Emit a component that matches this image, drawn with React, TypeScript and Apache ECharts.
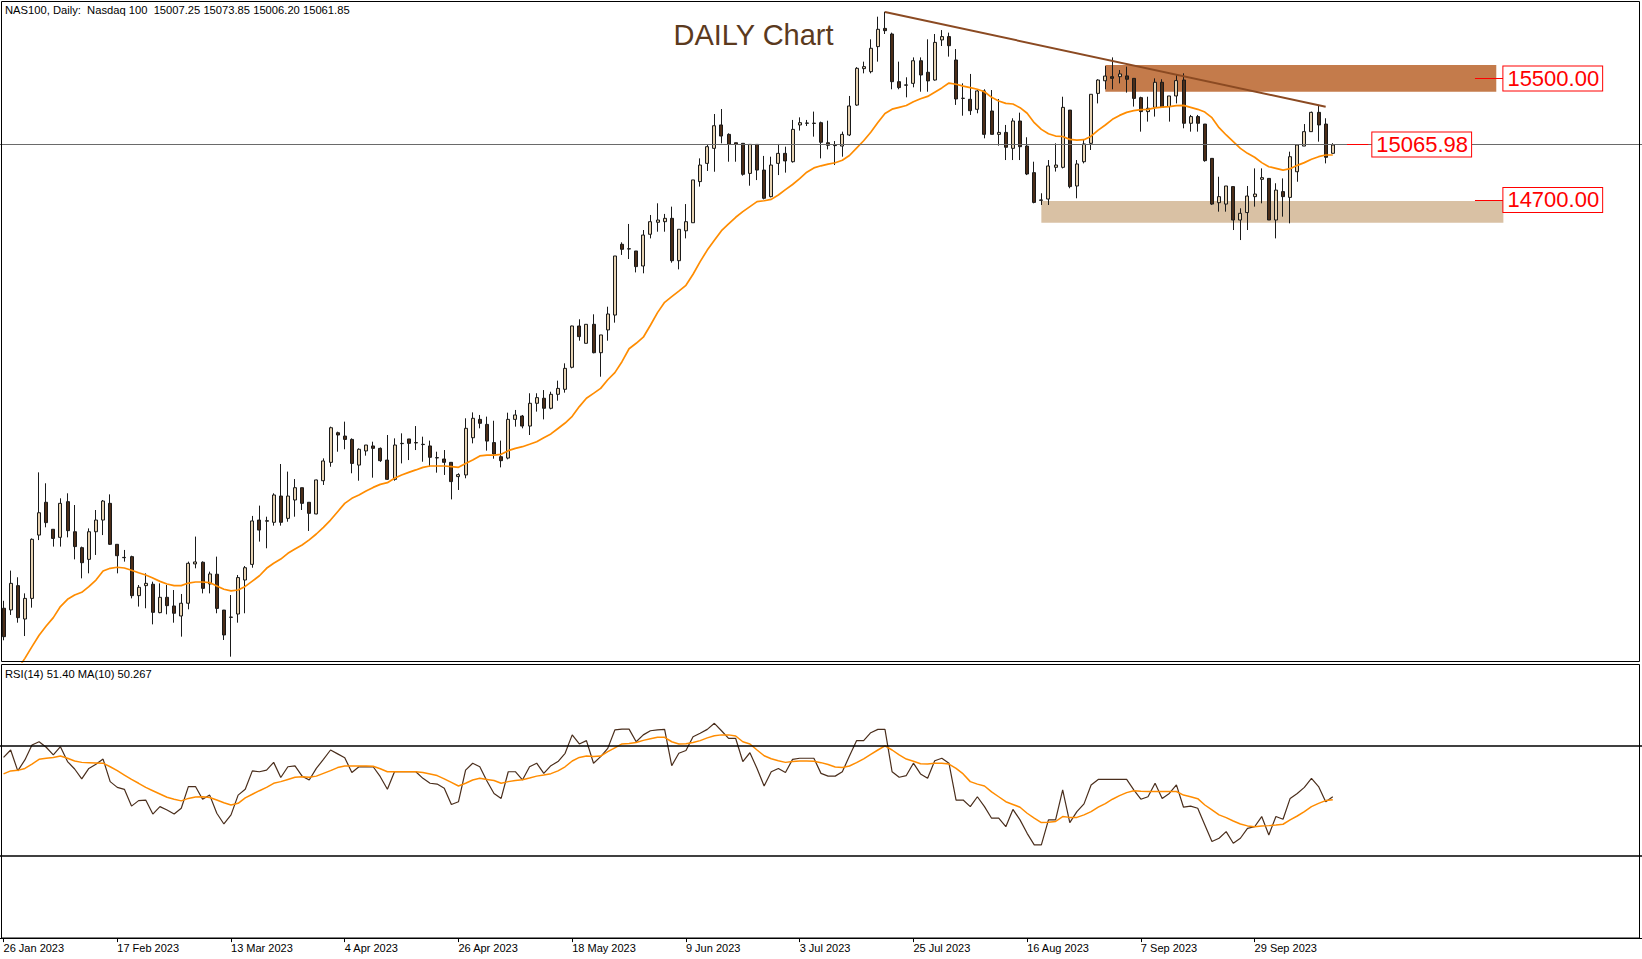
import React, { useEffect, useRef } from "react";
import * as echarts from "echarts";

// ---------- data ----------
const tickLabels = [
  "26 Jan 2023", "17 Feb 2023", "13 Mar 2023", "4 Apr 2023", "26 Apr 2023", "18 May 2023",
  "9 Jun 2023", "3 Jul 2023", "25 Jul 2023", "16 Aug 2023", "7 Sep 2023", "29 Sep 2023",
];
const TICK_STEP = 16; // bars between date labels
const SLOT_COUNT = 231; // bar slots across the window (chart shift on the right)

const opens = [
  12011, 12000, 12160, 11940, 12076, 12493, 12709, 12531, 12478, 12713,
  12515, 12410, 12333, 12515, 12592, 12702, 12432, 12346, 12351, 12094,
  12160, 12169, 11982, 12083, 12026, 11960, 12044, 12303, 12314, 12171,
  12235, 11999, 11951, 11973, 12197, 12300, 12592, 12584, 12577, 12750,
  12603, 12724, 12805, 12709, 12632, 12851, 12972, 13167, 13145, 13123,
  12954, 13047, 13080, 13064, 12987, 12860, 13095, 13126, 13102, 13091,
  13080, 13003, 12994, 12972, 12878, 12889, 13134, 13255, 13222, 13102,
  13009, 13000, 13255, 13277, 13211, 13361, 13394, 13328, 13420, 13453,
  13598, 13870, 13756, 13881, 13694, 13844, 13942, 14408, 14377, 14364,
  14265, 14474, 14553, 14557, 14579, 14300, 14497, 14550, 14821, 14941,
  15040, 15194, 15132, 15077, 15073, 14875, 15066, 14897, 14722, 14941,
  15007, 14952, 15194, 15205, 15206, 15209, 15077, 15060, 15055, 15128,
  15325, 15565, 15545, 15710, 15830, 15793, 15479, 15458, 15468, 15617,
  15541, 15490, 15754, 15776, 15622, 15370, 15363, 15297, 15418, 15286,
  15132, 15145, 15040, 15220, 15055, 14880, 14700, 14706, 14915, 14915,
  15292, 14792, 14952, 15073, 15402, 15485, 15512, 15512, 15517, 15501,
  15374, 15282, 15310, 15475, 15315, 15385, 15490, 15205, 15249, 15200,
  14974, 14682, 14673, 14788, 14568, 14617, 14722, 14836, 14842, 14568,
  14755, 14717, 14886, 15055, 15150, 15277, 15200, 15007.25,
];
const highs = [
  12060, 12259, 12215, 12109, 12471, 12906, 12834, 12531, 12735, 12768,
  12691, 12417, 12537, 12658, 12724, 12761, 12432, 12395, 12357, 12164,
  12241, 12186, 12175, 12164, 12131, 12105, 12318, 12483, 12320, 12252,
  12351, 12000, 12098, 12230, 12289, 12619, 12687, 12614, 12768, 12961,
  12911, 12862, 12805, 12709, 12858, 12998, 13207, 13174, 13240, 13130,
  13064, 13086, 13108, 13070, 13152, 13130, 13163, 13126, 13211, 13141,
  13115, 13042, 13053, 12972, 12900, 13262, 13301, 13284, 13273, 13246,
  13115, 13299, 13317, 13284, 13427, 13427, 13448, 13437, 13510, 13624,
  13872, 13914, 13881, 13947, 13811, 13997, 14331, 14421, 14542, 14364,
  14502, 14601, 14678, 14608, 14656, 14507, 14673, 14832, 14974, 15062,
  15266, 15299, 15139, 15077, 15073, 15066, 15066, 14990, 14985, 15069,
  15051, 15227, 15244, 15227, 15282, 15216, 15222, 15088, 15150, 15385,
  15575, 15611, 15758, 15907, 15940, 15802, 15611, 15508, 15639, 15639,
  15758, 15793, 15819, 15802, 15694, 15468, 15530, 15429, 15429, 15424,
  15365, 15194, 15238, 15275, 15113, 14952, 14744, 14963, 15073, 15380,
  15292, 14963, 15095, 15396, 15495, 15582, 15639, 15556, 15578, 15501,
  15380, 15380, 15501, 15495, 15385, 15523, 15534, 15260, 15260, 15200,
  14974, 14853, 14792, 14788, 14645, 14792, 14908, 14908, 14842, 14810,
  14842, 15018, 15062, 15200, 15282, 15326, 15238, 15073.85,
];
const lows = [
  11800, 11967, 11916, 11828, 12015, 12460, 12544, 12417, 12417, 12478,
  12333, 12208, 12241, 12362, 12493, 12428, 12241, 12318, 12076, 12022,
  12011, 11905, 11978, 11971, 11916, 11824, 12004, 12274, 12109, 12109,
  11978, 11802, 11692, 11916, 11978, 12278, 12450, 12406, 12555, 12555,
  12581, 12614, 12658, 12520, 12630, 12823, 12943, 13042, 13058, 12900,
  12851, 13016, 12871, 12975, 12856, 12851, 12965, 12987, 13053, 12976,
  12943, 12904, 12889, 12728, 12790, 12867, 13097, 13196, 13049, 12996,
  12939, 12992, 13207, 13196, 13152, 13306, 13255, 13321, 13378, 13431,
  13591, 13773, 13756, 13690, 13536, 13773, 13892, 14338, 14311, 14223,
  14217, 14447, 14491, 14491, 14287, 14243, 14447, 14550, 14788, 14891,
  14886, 15073, 14952, 14952, 14860, 14794, 14831, 14704, 14717, 14864,
  14880, 14946, 15157, 15187, 15117, 14974, 15033, 14930, 14985, 15121,
  15320, 15534, 15534, 15611, 15793, 15429, 15429, 15376, 15442, 15413,
  15413, 15486, 15714, 15644, 15326, 15255, 15260, 15271, 15106, 15132,
  15058, 14963, 14963, 14963, 14864, 14678, 14667, 14667, 14887, 14908,
  14777, 14711, 14941, 15029, 15336, 15429, 15429, 15468, 15407, 15315,
  15150, 15216, 15249, 15310, 15216, 15336, 15172, 15150, 15150, 14952,
  14667, 14623, 14623, 14502, 14436, 14502, 14656, 14678, 14568, 14447,
  14590, 14546, 14820, 15055, 15150, 15084, 14941, 15006.2,
];
const closes = [
  11824, 12175, 11949, 12076, 12465, 12640, 12575, 12471, 12702, 12522,
  12417, 12311, 12515, 12592, 12717, 12432, 12357, 12344, 12094, 12149,
  12175, 11984, 12083, 12028, 11978, 12044, 12307, 12316, 12142, 12237,
  12010, 11835, 11953, 12213, 12278, 12586, 12526, 12588, 12757, 12577,
  12750, 12805, 12702, 12636, 12856, 12981, 13200, 13152, 13123, 12965,
  13058, 13086, 13064, 12983, 12860, 13086, 13097, 13097, 13100, 13089,
  13005, 13001, 12972, 12845, 12891, 13196, 13262, 13229, 13112, 13027,
  12983, 13255, 13284, 13211, 13361, 13398, 13328, 13420, 13459, 13591,
  13870, 13800, 13881, 13694, 13811, 13949, 14331, 14375, 14379, 14261,
  14469, 14557, 14568, 14579, 14300, 14507, 14557, 14832, 14930, 15051,
  15189, 15121, 15066, 15066, 14869, 15066, 14897, 14711, 14930, 15007,
  14957, 15165, 15209, 15207, 15204, 15080, 15060, 15058, 15132, 15319,
  15567, 15578, 15699, 15824, 15815, 15479, 15440, 15456, 15617, 15523,
  15484, 15738, 15776, 15716, 15365, 15369, 15288, 15418, 15132, 15132,
  15145, 15047, 15220, 15051, 14871, 14684, 14698, 14924, 14930, 15310,
  14788, 14937, 15069, 15396, 15490, 15516, 15501, 15530, 15495, 15369,
  15282, 15304, 15475, 15310, 15385, 15486, 15205, 15249, 15205, 14959,
  14673, 14722, 14792, 14568, 14612, 14726, 14739, 14847, 14568, 14765,
  14722, 14985, 15062, 15150, 15277, 15194, 14981, 15061.85,
];
const ma20 = [
  11450, 11530, 11610, 11681, 11758, 11833, 11894, 11949, 12022, 12070,
  12098, 12116, 12153, 12197, 12256, 12274, 12281, 12276, 12261, 12245,
  12230, 12210, 12188, 12171, 12160, 12160, 12177, 12184, 12184, 12180,
  12158, 12136, 12125, 12131, 12155, 12190, 12225, 12274, 12307, 12335,
  12373, 12401, 12428, 12461, 12500, 12544, 12592, 12647, 12702, 12735,
  12757, 12783, 12807, 12827, 12838, 12867, 12889, 12906, 12922, 12939,
  12948, 12948, 12948, 12944, 12939, 12965, 12987, 13014, 13020, 13020,
  13025, 13049, 13064, 13075, 13091, 13108, 13134, 13159, 13195, 13231,
  13275, 13339, 13394, 13426, 13459, 13516, 13563, 13635, 13720, 13756,
  13796, 13875, 13958, 14026, 14063, 14100, 14138, 14211, 14294, 14370,
  14434, 14498, 14542, 14586, 14623, 14656, 14689, 14695, 14704, 14733,
  14768, 14802, 14840, 14883, 14911, 14925, 14936, 14945, 14962, 14993,
  15042, 15090, 15146, 15210, 15270, 15298, 15310, 15322, 15347, 15367,
  15382, 15410, 15438, 15470, 15462, 15450, 15440, 15429, 15413, 15376,
  15352, 15336, 15332, 15308, 15271, 15209, 15165, 15136, 15121, 15118,
  15099, 15094, 15097, 15120, 15160, 15194, 15231, 15257, 15277, 15288,
  15295, 15297, 15306, 15312, 15315, 15321, 15323, 15310, 15297, 15279,
  15242, 15176, 15128, 15084, 15040, 15007, 14981, 14946, 14919, 14908,
  14897, 14906, 14928, 14946, 14968, 14985, 14996, 14996,
];
const rsi14 = [
  65.7, 68.4, 60.8, 64.8, 70.2, 71.4, 69.4, 66.6, 69.6, 64.2,
  61.5, 57.9, 61.7, 63.2, 65.1, 56.9, 54.8, 54.1, 48.0, 50.0,
  50.2, 45.1, 47.8, 46.6, 45.1, 47.2, 55.1, 55.1, 50.5, 52.0,
  45.4, 41.5, 44.8, 52.0, 54.1, 60.8, 60.5, 61.1, 63.9, 58.4,
  62.3, 62.6, 58.9, 57.5, 61.7, 65.0, 68.4, 67.0, 65.6, 60.2,
  62.3, 62.3, 62.3, 58.7, 54.1, 60.5, 60.5, 60.5, 60.5, 58.1,
  56.3, 56.0, 54.5, 48.6, 49.6, 61.1, 63.6, 62.3, 57.1, 52.6,
  50.8, 60.5, 60.5, 57.5, 62.3, 63.6, 59.9, 62.7, 64.2, 67.2,
  73.9, 70.6, 71.8, 63.6, 66.0, 69.0, 75.7, 76.0, 76.0, 71.4,
  73.9, 75.4, 75.7, 75.9, 62.7, 67.2, 68.2, 73.2, 74.5, 75.9,
  78.1, 75.4, 72.6, 72.6, 64.2, 67.4, 61.7, 55.3, 60.5, 61.7,
  60.2, 65.0, 65.4, 65.4, 65.4, 59.9, 58.9, 58.9, 60.5, 66.2,
  71.8, 71.8, 74.7, 75.9, 75.9, 60.5, 58.5, 59.1, 63.6, 59.7,
  58.1, 64.5, 65.4, 63.6, 50.2, 50.2, 47.8, 51.4, 47.8, 43.6,
  43.6, 40.5, 46.8, 43.0, 38.1, 33.9, 33.9, 43.0, 43.0, 53.9,
  42.0, 46.0, 48.8, 55.7, 57.7, 57.7, 57.7, 57.7, 57.7, 53.9,
  50.5, 51.4, 56.3, 50.8, 52.6, 55.7, 47.6, 48.0, 47.2, 41.1,
  35.1, 36.3, 38.7, 34.5, 36.3, 39.9, 40.5, 44.2, 37.5, 44.2,
  43.2, 50.8, 52.6, 54.8, 58.1, 55.1, 49.6, 51.4,
];
const rsiMa10 = [
  59.7, 60.8, 61.0, 61.7, 63.3, 65.0, 65.4, 65.7, 66.2, 65.4,
  64.4, 63.9, 63.8, 63.7, 63.6, 62.3, 60.9, 59.3, 57.7, 56.3,
  54.8, 53.6, 52.4, 51.2, 50.5, 49.9, 50.8, 51.3, 51.4, 51.1,
  50.2, 49.2, 48.4, 49.0, 51.0, 52.3, 53.6, 54.8, 56.3, 56.9,
  57.7, 58.5, 58.7, 58.5, 58.9, 59.9, 60.9, 62.0, 62.6, 62.6,
  62.6, 62.6, 62.5, 61.6, 60.5, 60.5, 60.5, 60.5, 60.5, 60.2,
  59.7, 59.1, 57.9, 56.6, 55.3, 56.3, 57.5, 58.1, 57.7, 57.3,
  56.3, 56.9, 57.3, 57.6, 58.2, 58.9, 59.3, 59.8, 60.8, 62.3,
  64.4, 65.7, 66.2, 66.0, 66.2, 67.8, 69.2, 70.6, 70.8, 71.1,
  71.9, 72.5, 73.0, 73.0, 71.4, 70.6, 70.7, 71.1, 71.8, 72.8,
  73.6, 73.9, 73.9, 73.5, 71.4, 70.6, 68.4, 66.3, 65.2, 64.5,
  63.9, 64.2, 64.4, 64.4, 64.3, 63.8, 63.1, 62.2, 62.0, 62.6,
  63.8, 65.2, 66.8, 68.4, 69.9, 68.4, 66.6, 65.1, 64.3, 63.4,
  63.3, 63.6, 63.6, 63.3, 61.7, 59.7, 56.9, 56.0, 55.3, 53.2,
  51.4, 49.6, 48.6, 47.6, 45.4, 43.6, 42.0, 42.1, 42.4, 44.2,
  43.9, 43.9, 44.8, 46.0, 47.6, 48.9, 50.5, 51.8, 52.9, 53.6,
  53.4, 53.3, 53.3, 53.3, 53.3, 53.3, 52.0, 51.4, 50.7, 48.4,
  46.6, 44.8, 43.8, 42.6, 41.5, 40.8, 40.5, 40.8, 40.9, 41.1,
  41.4, 43.0, 44.4, 46.0, 47.8, 49.0, 50.0, 50.267,
];

// annotation values (price levels and bar indices)
const resistanceZone = [15413, 15589];
const resistanceBars = [155, 210];
const supportZone = [14550, 14693];
const supportBars = [146, 211];
const trendStart = [124, 15938];
const trendEnd = [186, 15314];
const currentPrice = 15065.98;
const levelMarks = [
  { price: 15500, from: 207, to: 211, text: "15500.00", gap: 0 },
  { price: 14700, from: 207, to: 211, text: "14700.00", gap: 0 },
  { price: 15065.98, from: 189, to: 192, text: "15065.98", gap: 4 },
];
const rsiLevels = [70, 30];
const headerText = "NAS100, Daily:  Nasdaq 100  15007.25 15073.85 15006.20 15061.85";
const rsiText = "RSI(14) 51.40 MA(10) 50.267";
const titleText = "DAILY Chart";

const FONT = "'Liberation Sans', Arial, sans-serif";

export default function App() {
  const ref = useRef<HTMLDivElement>(null);

  useEffect(() => {
    document.body.style.margin = "0";
    const chart = echarts.init(ref.current as HTMLDivElement, null, { renderer: "svg" });
    const cats = Array.from({ length: SLOT_COUNT }, (_, i) => String(i));
    const candles = opens.map((o, i) => [o, closes[i], lows[i], highs[i]]);
    const showTick = (i: number) => i % TICK_STEP === 0 && i / TICK_STEP < tickLabels.length;

    const levelLines = levelMarks.map((m) => [
      {
        coord: [m.from, m.price],
        lineStyle: { color: "#ff0000", width: 1, type: "solid" },
        label: {
          show: true,
          position: "end",
          distance: m.gap,
          formatter: m.text,
          color: "#ff0000",
          fontSize: 22,
          fontFamily: FONT,
          backgroundColor: "#ffffff",
          borderColor: "#ff0000",
          borderWidth: 1,
          padding: [2, 3, 0, 4],
        },
      },
      { coord: [m.to, m.price] },
    ]);

    const option: any = {
      animation: false,
      backgroundColor: "#ffffff",
      grid: [
        { left: 0, top: 0, width: 1642, height: 662 },
        { left: 0, top: 663.1, width: 1642, height: 275 },
      ],
      xAxis: [
        { type: "category", gridIndex: 0, data: cats, show: false, boundaryGap: true },
        {
          type: "category",
          gridIndex: 1,
          data: cats,
          boundaryGap: true,
          axisLine: { show: true, lineStyle: { color: "#000", width: 1 } },
          axisTick: {
            show: true,
            alignWithLabel: true,
            interval: (i: number) => showTick(i),
            length: 4,
            lineStyle: { color: "#000" },
          },
          axisLabel: {
            show: true,
            interval: (i: number) => showTick(i),
            formatter: (_v: string, i: number) => tickLabels[i / TICK_STEP] ?? "",
            align: "left",
            margin: 4,
            color: "#000",
            fontSize: 11,
            fontFamily: FONT,
          },
          splitLine: { show: false },
        },
      ],
      yAxis: [
        { type: "value", gridIndex: 0, min: 11657, max: 16017, show: false, splitLine: { show: false } },
        { type: "value", gridIndex: 1, min: 0, max: 100, show: false, splitLine: { show: false } },
      ],
      series: [
        {
          name: "anno",
          type: "line",
          xAxisIndex: 0,
          yAxisIndex: 0,
          data: [],
          z: 1,
          silent: true,
          markArea: {
            silent: true,
            label: { show: false },
            data: [
              [
                { coord: [resistanceBars[0], resistanceZone[1]], itemStyle: { color: "#C47B4B", opacity: 1 } },
                { coord: [resistanceBars[1], resistanceZone[0]] },
              ],
              [
                { coord: [supportBars[0], supportZone[1]], itemStyle: { color: "#D9C1A4", opacity: 1 } },
                { coord: [supportBars[1], supportZone[0]] },
              ],
            ],
          },
          markLine: {
            silent: true,
            symbol: ["none", "none"],
            label: { show: false },
            data: [
              { yAxis: currentPrice, lineStyle: { color: "#6a6a6a", width: 1, type: "solid" }, label: { show: false } },
              ...levelLines,
            ],
          },
        },
        {
          name: "price",
          type: "candlestick",
          xAxisIndex: 0,
          yAxisIndex: 0,
          data: candles,
          barWidth: 3.5,
          z: 2,
          itemStyle: {
            color: "#E6D2B2",
            color0: "#4B2D18",
            borderColor: "#1a1a1a",
            borderColor0: "#1a1a1a",
            borderColorDoji: "#1a1a1a",
            borderWidth: 1,
          },
        },
        {
          name: "MA",
          type: "line",
          xAxisIndex: 0,
          yAxisIndex: 0,
          data: ma20,
          symbol: "none",
          clip: true,
          z: 3,
          lineStyle: { color: "#FF8C00", width: 1.7 },
        },
        {
          name: "trend",
          type: "line",
          xAxisIndex: 0,
          yAxisIndex: 0,
          data: [],
          z: 4,
          silent: true,
          markLine: {
            silent: true,
            symbol: ["none", "none"],
            label: { show: false },
            lineStyle: { color: "#8B4A22", width: 2, type: "solid" },
            data: [[{ coord: trendStart }, { coord: trendEnd }]],
          },
        },
        {
          name: "RSI",
          type: "line",
          xAxisIndex: 1,
          yAxisIndex: 1,
          data: rsi14,
          symbol: "none",
          z: 3,
          lineStyle: { color: "#4A2E1C", width: 1.2 },
          markLine: {
            silent: true,
            symbol: ["none", "none"],
            label: { show: false },
            lineStyle: { color: "#000", width: 1.5, type: "solid" },
            data: rsiLevels.map((v) => ({ yAxis: v })),
          },
        },
        {
          name: "RSI MA",
          type: "line",
          xAxisIndex: 1,
          yAxisIndex: 1,
          data: rsiMa10,
          symbol: "none",
          z: 4,
          lineStyle: { color: "#FF8C00", width: 1.5 },
        },
      ],
      graphic: [
        {
          type: "rect",
          silent: true,
          z: 100,
          shape: { x: 1.5, y: 1.5, width: 1638, height: 660 },
          style: { fill: "none", stroke: "#000", lineWidth: 1 },
        },
        {
          type: "rect",
          silent: true,
          z: 100,
          shape: { x: 1.5, y: 664.5, width: 1638, height: 273.5 },
          style: { fill: "none", stroke: "#000", lineWidth: 1 },
        },
        {
          type: "text",
          silent: true,
          z: 100,
          x: 5,
          y: 9.5,
          style: { text: headerText, fontSize: 11.2, fontFamily: FONT, fill: "#000", align: "left", verticalAlign: "middle" },
        },
        {
          type: "text",
          silent: true,
          z: 100,
          x: 753.5,
          y: 35,
          style: { text: titleText, fontSize: 29, fontFamily: FONT, fill: "#5B3A1E", align: "center", verticalAlign: "middle" },
        },
        {
          type: "text",
          silent: true,
          z: 100,
          x: 5,
          y: 674,
          style: { text: rsiText, fontSize: 11.2, fontFamily: FONT, fill: "#000", align: "left", verticalAlign: "middle" },
        },
      ],
    };

    chart.setOption(option);
    return () => {
      chart.dispose();
    };
  }, []);

  return (
    <div
      ref={ref}
      style={{ position: "absolute", left: 0, top: 0, width: 1642, height: 959, background: "#fff" }}
    />
  );
}
